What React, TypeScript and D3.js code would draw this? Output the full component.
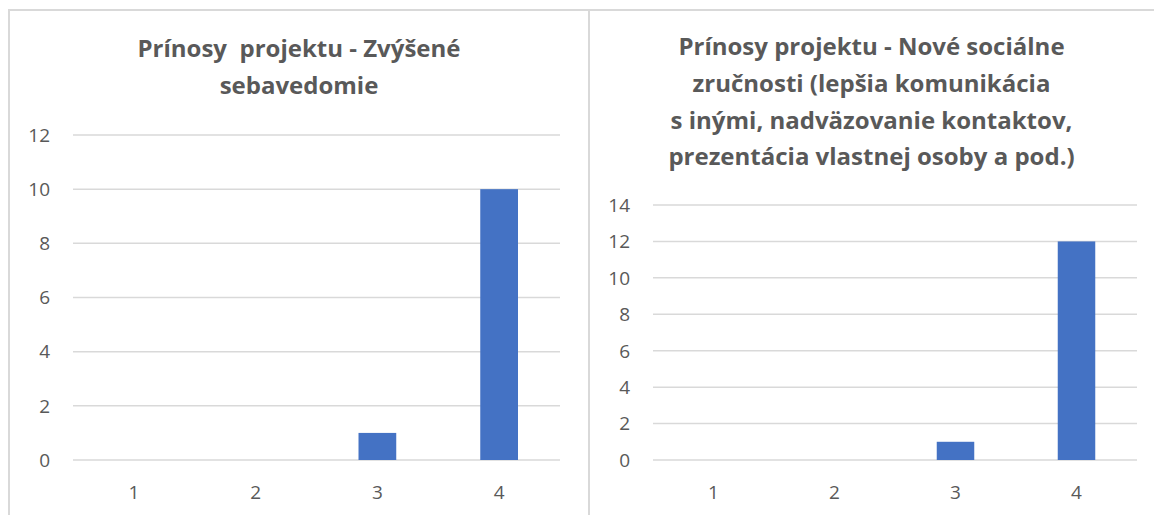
import React from "react";
import * as d3 from "d3";

const categories = ["1", "2", "3", "4"];
const valuesLeft = [0, 0, 1, 10];
const valuesRight = [0, 0, 1, 12];
const ticksLeft = [0, 2, 4, 6, 8, 10, 12];
const ticksRight = [0, 2, 4, 6, 8, 10, 12, 14];
const titleLeft = ["Prínosy  projektu - Zvýšené", "sebavedomie"];
const titleRight = [
  "Prínosy projektu - Nové sociálne",
  "zručnosti (lepšia komunikácia",
  "s inými, nadväzovanie kontaktov,",
  "prezentácia vlastnej osoby a pod.)",
];

const FONT = "'Open Sans', Lato, sans-serif";
const TXT = "#595959";
const GRID = "#d9d9d9";
const BAR = "#4472c4";

type PanelProps = {
  x0: number;
  x1: number;
  plotL: number;
  plotR: number;
  yTop: number;
  yMax: number;
  values: number[];
  ticks: number[];
  title: string[];
  titleY: number;
};

function Panel({ x0, x1, plotL, plotR, yTop, yMax, values, ticks, title, titleY }: PanelProps) {
  const yBottom = 460;
  const x = d3.scaleBand<string>().domain(categories).range([plotL, plotR]).paddingInner(0.69).paddingOuter(0.345);
  const xc = d3.scaleBand<string>().domain(categories).range([plotL, plotR]);
  const y = d3.scaleLinear().domain([0, yMax]).range([yBottom, yTop]);
  const cx = (x0 + x1) / 2;
  return (
    <g>
      {title.map((t, i) => (
        <text key={i} x={cx} y={titleY + i * 36.8} textAnchor="middle" fontFamily={FONT} fontWeight="bold" fontSize={24} fill={TXT} style={{ whiteSpace: "pre" }}>
          {t}
        </text>
      ))}
      {ticks.map((t) => (
        <g key={t}>
          <line x1={plotL} x2={plotR} y1={y(t)} y2={y(t)} stroke={GRID} strokeWidth={1.5} />
          <text x={plotL - 23} y={y(t) + 6.8} textAnchor="end" fontFamily={FONT} fontSize={19} fill={TXT}>
            {t}
          </text>
        </g>
      ))}
      {categories.map((c, i) =>
        values[i] > 0 ? (
          <rect key={c} x={x(c)} y={y(values[i])} width={x.bandwidth()} height={yBottom - y(values[i])} fill={BAR} />
        ) : null
      )}
      {categories.map((c) => (
        <text key={c} x={(xc(c) as number) + xc.bandwidth() / 2} y={499} textAnchor="middle" fontFamily={FONT} fontSize={19} fill={TXT}>
          {c}
        </text>
      ))}
    </g>
  );
}

export default function App() {
  return (
    <svg width={1154} height={515} style={{ position: "absolute", left: 0, top: 0, background: "#fff" }}>
      <rect x={0} y={0} width={1154} height={515} fill="#fff" />
      <line x1={8} x2={1154} y1={10} y2={10} stroke={GRID} strokeWidth={2} />
      <line x1={9} x2={9} y1={10} y2={515} stroke={GRID} strokeWidth={2} />
      <line x1={589} x2={589} y1={10} y2={515} stroke={GRID} strokeWidth={2} />
      <Panel x0={9} x1={589} plotL={73} plotR={560} yTop={135} yMax={12} values={valuesLeft} ticks={ticksLeft} title={titleLeft} titleY={57} />
      <Panel x0={589} x1={1154} plotL={653} plotR={1137} yTop={205} yMax={14} values={valuesRight} ticks={ticksRight} title={titleRight} titleY={55} />
    </svg>
  );
}
